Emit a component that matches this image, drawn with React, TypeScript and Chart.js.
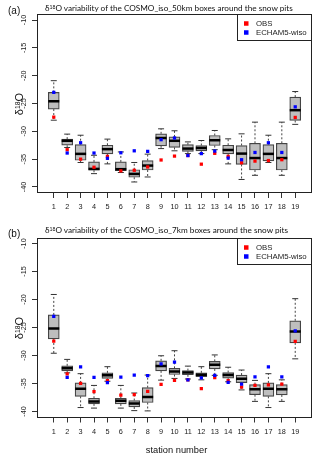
import React, { useEffect, useRef } from "react";
import { Chart, registerables } from "chart.js";
Chart.register(...registerables);

// ---- data ----
const stations = [1, 2, 3, 4, 5, 6, 7, 8, 9, 10, 11, 12, 13, 14, 15, 16, 17, 18, 19];
const yTicks = [-40, -35, -30, -25, -20, -15, -10];
const yMin = -41.08;
const yMax = -8.92;

// COSMO_iso_50km boxes
const lo50 = [-28.0, -32.9, -35.6, -37.6, -35.85, -37.4, -39.1, -38.2, -33.1, -33.5, -34.0, -34.0, -33.3, -35.85, -38.65, -37.9, -35.6, -37.9, -28.75];
const q1_50 = [-26.0, -32.5, -35.2, -37.0, -34.05, -37.05, -38.25, -36.95, -32.6, -32.9, -33.6, -33.5, -32.55, -34.05, -35.95, -36.95, -35.3, -36.95, -28.05];
const med50 = [-24.6, -31.7, -34.05, -36.75, -33.2, -36.8, -37.65, -36.15, -31.2, -31.7, -33.1, -33.0, -31.6, -33.35, -34.0, -34.8, -34.05, -34.8, -26.2];
const q3_50 = [-23.0, -31.4, -32.4, -35.5, -32.5, -35.5, -36.9, -35.25, -30.45, -31.0, -32.4, -32.55, -30.75, -32.5, -32.55, -32.15, -32.4, -32.15, -23.85];
const hi50 = [-20.9, -30.5, -30.7, -34.3, -31.4, -33.7, -35.6, -34.1, -29.55, -29.9, -31.9, -31.65, -29.85, -31.35, -30.45, -28.35, -30.7, -28.35, -22.85];

// COSMO_iso_7km boxes
const lo7 = [-29.6, -33.1, -39.3, -39.4, -34.6, -39.4, -39.85, -39.9, -34.4, -34.1, -34.2, -34.35, -33.55, -34.7, -36.15, -38.2, -39.3, -38.2, -30.6];
const q1_7 = [-27.05, -32.75, -37.3, -38.65, -34.1, -38.65, -39.2, -38.4, -32.75, -33.4, -33.45, -33.8, -32.4, -34.05, -34.85, -37.0, -37.3, -37.05, -27.75];
const med7 = [-25.2, -32.3, -35.95, -38.2, -33.55, -38.1, -38.6, -37.4, -31.9, -32.85, -33.05, -33.45, -31.65, -33.5, -34.15, -36.05, -35.95, -36.05, -25.7];
const q3_7 = [-22.75, -31.85, -34.9, -37.65, -33.1, -37.65, -38.05, -35.75, -30.95, -32.3, -32.7, -33.1, -31.05, -33.05, -33.5, -35.2, -34.9, -35.2, -23.8];
const hi7 = [-19.1, -30.7, -33.25, -35.35, -32.0, -35.35, -36.7, -33.5, -30.05, -29.15, -31.9, -32.0, -29.9, -32.1, -32.6, -34.45, -33.25, -34.35, -19.85];

// observations and ECHAM5-wiso
const obsValues = [-27.45, -33.3, -35.0, -36.45, -34.5, -37.1, -37.0, -36.4, -35.15, -34.45, -34.35, -35.9, -33.95, -34.5, -35.65, -35.35, -35.25, -35.1, -27.5];
const echamValues = [-23.0, -33.9, -32.05, -33.9, -34.85, -33.85, -33.5, -33.6, -31.5, -31.2, -34.35, -34.0, -33.55, -34.8, -35.1, -33.8, -32.05, -33.8, -25.6];

const legendLabels = ["OBS", "ECHAM5-wiso"];

const TICK_FONT = '"Liberation Sans", Arial, sans-serif';

const frameLegendPlugin = {
  id: "frameLegend",
  afterDatasetsDraw(chart: any) {
    const { ctx, chartArea: a } = chart;
    ctx.save();
    ctx.strokeStyle = "#222";
    ctx.lineWidth = 1;
    const L = Math.round(a.left), T = Math.round(a.top), R = Math.round(a.right), B = Math.round(a.bottom);
    ctx.strokeRect(L + 0.5, T + 0.5, R - L - 1, B - T - 1);
    const items = chart.data.datasets.filter((d: any) => legendLabels.includes(d.label));
    const w = 75, h = 27;
    const lx = R - w, ly = T;
    ctx.fillStyle = "#fff";
    ctx.fillRect(lx + 0.5, ly + 0.5, w - 1, h - 1);
    ctx.strokeRect(lx + 0.5, ly + 0.5, w - 1, h - 1);
    ctx.font = `7.8px ${TICK_FONT}`;
    ctx.textBaseline = "middle";
    ctx.textAlign = "left";
    items.forEach((d: any, i: number) => {
      const cy = ly + 9.5 + i * 9;
      ctx.fillStyle = d.backgroundColor;
      ctx.fillRect(lx + 7, cy - 2.25, 4.5, 4.5);
      ctx.fillStyle = "#222";
      ctx.fillText(d.label, lx + 19, cy);
    });
    ctx.restore();
  },
};

function makeConfig(lo: number[], q1: number[], med: number[], q3: number[], hi: number[], padTop: number, xAxisHeight: number): any {
  const whisker: any[] = [];
  stations.forEach((s, i) => {
    whisker.push({ x: s, y: q3[i] }, { x: s, y: hi[i] }, { x: s, y: null }, { x: s, y: q1[i] }, { x: s, y: lo[i] }, { x: s, y: null });
  });
  const caps = [
    ...stations.map((s, i) => ({ x: s, y: hi[i] })),
    ...stations.map((s, i) => ({ x: s, y: lo[i] })),
  ];
  const grid = {
    display: true,
    drawOnChartArea: false,
    drawTicks: true,
    tickLength: 5,
    tickColor: "#333",
    offset: false,
  };
  return {
    type: "scatter",
    data: {
      datasets: [
        {
          type: "line",
          label: "whiskers",
          data: whisker,
          borderColor: "#444",
          borderWidth: 1,
          borderDash: [2, 2],
          pointRadius: 0,
          spanGaps: false,
          fill: false,
          tension: 0,
          order: 6,
        },
        {
          type: "scatter",
          label: "caps",
          data: caps,
          pointStyle: "line",
          pointRadius: 3,
          borderColor: "#333",
          borderWidth: 1,
          order: 5,
        },
        {
          type: "bar",
          label: "boxes",
          data: stations.map((s, i) => ({ x: s, y: [q1[i], q3[i]] })),
          backgroundColor: "#bebebe",
          borderColor: "#444",
          borderWidth: 1.2,
          borderSkipped: false,
          barThickness: 11,
          order: 4,
        },
        {
          type: "scatter",
          label: "median",
          data: stations.map((s, i) => ({ x: s, y: med[i] })),
          pointStyle: "line",
          pointRadius: 5.5,
          borderColor: "#000",
          borderWidth: 2.5,
          order: 3,
        },
        {
          type: "scatter",
          label: legendLabels[0],
          data: stations.map((s, i) => ({ x: s, y: obsValues[i] })),
          pointStyle: "rect",
          pointRadius: 2.3,
          backgroundColor: "#ff0000",
          borderWidth: 0,
          order: 2,
        },
        {
          type: "scatter",
          label: legendLabels[1],
          data: stations.map((s, i) => ({ x: s, y: echamValues[i] })),
          pointStyle: "rect",
          pointRadius: 2.3,
          backgroundColor: "#0000ff",
          borderWidth: 0,
          order: 1,
        },
      ],
    },
    options: {
      responsive: false,
      animation: false,
      events: [],
      layout: { padding: { left: 0, right: 4, top: padTop, bottom: 0 } },
      plugins: {
        legend: { display: false },
        tooltip: { enabled: false },
        title: { display: false },
      },
      scales: {
        x: {
          type: "linear",
          min: -0.25,
          max: 20.25,
          offset: false,
          afterBuildTicks: (s: any) => {
            s.ticks = stations.map((v) => ({ value: v }));
          },
          afterFit: (s: any) => {
            s.height = xAxisHeight;
          },
          grid,
          border: { display: false },
          ticks: {
            autoSkip: false,
            maxRotation: 0,
            minRotation: 0,
            padding: 5,
            color: "#222",
            font: { family: TICK_FONT, size: 7.3 },
            callback: (v: any) => String(v),
          },
        },
        y: {
          type: "linear",
          min: yMin,
          max: yMax,
          beginAtZero: false,
          afterBuildTicks: (s: any) => {
            s.ticks = yTicks.map((v) => ({ value: v }));
          },
          afterFit: (s: any) => {
            s.width = 37;
          },
          grid,
          border: { display: false },
          ticks: {
            minRotation: 90,
            maxRotation: 90,
            crossAlign: "center",
            padding: 3,
            color: "#222",
            font: { family: TICK_FONT, size: 7.3 },
            callback: (v: any) => String(v),
          },
        },
      },
    },
    plugins: [frameLegendPlugin],
  };
}

const sup: React.CSSProperties = { fontSize: "0.62em", position: "relative", top: "-0.45em" };

function Title({ top, res }: { top: number; res: string }) {
  return (
    <div
      style={{
        position: "absolute",
        left: 45,
        top,
        whiteSpace: "nowrap",
        fontFamily: "Lato, 'Open Sans', sans-serif",
        fontSize: 8.2,
        lineHeight: "10px",
        color: "#111",
      }}
    >
      δ<span style={sup}>18</span>O variability of the COSMO_iso_{res} boxes around the snow pits
    </div>
  );
}

function YLabel({ cy }: { cy: number }) {
  return (
    <div
      style={{
        position: "absolute",
        left: 19 - 25,
        top: cy - 7,
        width: 50,
        height: 14,
        lineHeight: "14px",
        textAlign: "center",
        transform: "rotate(-90deg)",
        fontFamily: TICK_FONT,
        fontSize: 11,
        color: "#111",
        whiteSpace: "nowrap",
      }}
    >
      δ<span style={sup}>18</span>O
    </div>
  );
}

function PanelLetter({ top, text }: { top: number; text: string }) {
  return (
    <div
      style={{
        position: "absolute",
        left: 8,
        top,
        fontFamily: TICK_FONT,
        fontSize: 10,
        lineHeight: "12px",
        color: "#111",
      }}
    >
      {text}
    </div>
  );
}

export default function App() {
  const refA = useRef<HTMLCanvasElement>(null);
  const refB = useRef<HTMLCanvasElement>(null);
  useEffect(() => {
    const ca = new Chart(refA.current as HTMLCanvasElement, makeConfig(lo50, q1_50, med50, q3_50, hi50, 14, 35));
    const cb = new Chart(refB.current as HTMLCanvasElement, makeConfig(lo7, q1_7, med7, q3_7, hi7, 9.5, 39.5));
    return () => {
      ca.destroy();
      cb.destroy();
    };
  }, []);
  return (
    <div style={{ position: "absolute", left: 0, top: 0, width: 320, height: 457, background: "#fff", overflow: "hidden" }}>
      <canvas ref={refA} width={320} height={228} style={{ position: "absolute", left: 0, top: 0, width: 320, height: 228 }} />
      <canvas ref={refB} width={320} height={229} style={{ position: "absolute", left: 0, top: 228, width: 320, height: 229 }} />
      <PanelLetter top={5} text="(a)" />
      <PanelLetter top={228} text="(b)" />
      <Title top={3} res="50km" />
      <Title top={225} res="7km" />
      <YLabel cy={104} />
      <YLabel cy={327.5} />
      <div
        style={{
          position: "absolute",
          left: 126.5,
          width: 100,
          top: 445,
          textAlign: "center",
          fontFamily: TICK_FONT,
          fontSize: 9.3,
          lineHeight: "11px",
          color: "#111",
          whiteSpace: "nowrap",
        }}
      >
        station number
      </div>
    </div>
  );
}
